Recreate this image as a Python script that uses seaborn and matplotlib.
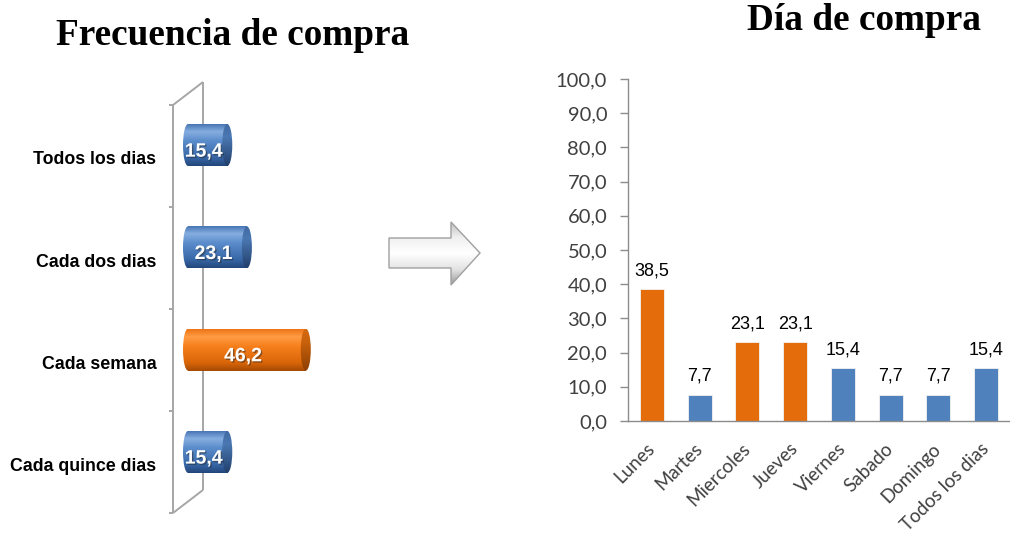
import numpy as np
import matplotlib
matplotlib.use("Agg")
import matplotlib.pyplot as plt
import matplotlib.colors as mcolors
from matplotlib.patches import Ellipse, Polygon
import matplotlib.patheffects as pe
import pandas as pd
import seaborn as sns

# ---- data ----
frecuencia_cats = ["Todos los dias", "Cada dos dias", "Cada semana", "Cada quince dias"]
frecuencia_vals = [15.4, 23.1, 46.2, 15.4]
frecuencia_destacada = [False, False, True, False]

dias = ["Lunes", "Martes", "Miercoles", "Jueves", "Viernes", "Sabado", "Domingo", "Todos los dias"]
dias_vals = [38.5, 7.7, 23.1, 23.1, 15.4, 7.7, 7.7, 15.4]
dias_destacados = [True, False, True, True, False, False, False, False]

y_ticks = [0, 10, 20, 30, 40, 50, 60, 70, 80, 90, 100]

titulo_izq = "Frecuencia de compra"
titulo_der = "Día de compra"

sns.set_style("white")
plt.rcParams["font.family"] = ["Lato", "DejaVu Sans"]

AZUL = "#4F81BD"
NARANJA = "#E46C0A"
GRIS_TXT = "#404040"
GRIS_EJE = "#8C8C8C"
NARROW = ["Liberation Sans Narrow", "Liberation Sans"]

fmt = lambda v: f"{v:.1f}".replace(".", ",")

W, H = 1010, 538
fig = plt.figure(figsize=(W / 100, H / 100), dpi=100)
fig.patch.set_facecolor("white")


def px_rect(l, t, r, b):
    return [l / W, 1 - b / H, (r - l) / W, (b - t) / H]


def gradient(stops, n=96):
    pos = [s[0] for s in stops]
    cols = np.array([mcolors.to_rgb(s[1]) for s in stops])
    t = np.linspace(0, 1, n)
    arr = np.stack([np.interp(t, pos, cols[:, k]) for k in range(3)], axis=-1)
    return arr[:, None, :]


def fill_gradient(ax, clip_patch, extent, stops, zorder):
    im = ax.imshow(gradient(stops), extent=extent, origin="upper", aspect="auto",
                   interpolation="bilinear", zorder=zorder)
    im.set_clip_path(clip_patch)
    return im


CIL_AZUL = [(0, "#4876B5"), (0.18, "#86AEE0"), (0.4, "#5B8CCB"), (0.8, "#3767A6"), (1, "#23467A")]
CIL_NARANJA = [(0, "#EE7414"), (0.18, "#FF9C45"), (0.4, "#F7801D"), (0.8, "#DA6609"), (1, "#A64A04")]
TAPA_AZUL = [(0, "#3F6AA4"), (0.3, "#4B78B2"), (1, "#213F6C")]
TAPA_NARANJA = [(0, "#D46A12"), (0.3, "#C9620C"), (1, "#8E3F03")]

# ---- left: horizontal cylinder bars ----
ax1 = fig.add_axes(px_rect(173, 82, 330, 513))
df1 = pd.DataFrame({"cat": frecuencia_cats, "val": frecuencia_vals})
pal1 = {c: (NARANJA if d else AZUL) for c, d in zip(frecuencia_cats, frecuencia_destacada)}
sns.barplot(data=df1, x="val", y="cat", hue="cat", palette=pal1, orient="h",
            width=0.41, saturation=1, legend=False, ax=ax1)

px_per_unit = 2.55
x_lo = -15 / px_per_unit
x_hi = x_lo + 157 / px_per_unit
y_top = -0.616
y_bot = 3.597
cap_w = 10 / px_per_unit

for patch, val, dest in zip(ax1.patches, frecuencia_vals, frecuencia_destacada):
    x0, y0 = patch.get_x(), patch.get_y()
    w, h = patch.get_width(), patch.get_height()
    yc = y0 + h / 2
    body = CIL_NARANJA if dest else CIL_AZUL
    tapa = TAPA_NARANJA if dest else TAPA_AZUL
    patch.set_facecolor("none")
    patch.set_edgecolor("none")
    fill_gradient(ax1, patch, (x0, x0 + w, y0 + h, y0), body, 3)
    left = Ellipse((x0, yc), cap_w, h, facecolor="none", edgecolor="none")
    ax1.add_patch(left)
    fill_gradient(ax1, left, (x0 - cap_w, x0 + cap_w, y0 + h, y0), body, 3)
    right = Ellipse((x0 + w, yc), cap_w, h, facecolor="none", edgecolor="none")
    ax1.add_patch(right)
    fill_gradient(ax1, right, (x0 + w - cap_w, x0 + w + cap_w, y0 + h, y0), tapa, 4)
    ax1.text(val / 2 - 1.5, yc + 0.07, fmt(val), ha="center", va="center", color="white",
             fontsize=14, fontweight="bold", family=NARROW, zorder=6,
             path_effects=[pe.withSimplePatchShadow(offset=(1, -1), alpha=0.45, shadow_rgbFace="#222222")])

# 3D wall frame
front_x, back_x = x_lo, -x_lo
depth = y_bot - 3.372
frame = dict(color="#A6A6A6", lw=1.4, zorder=1, solid_capstyle="butt", clip_on=False)
front_top = y_top + depth
ax1.plot([front_x, front_x], [front_top, y_bot], **frame)
ax1.plot([back_x, back_x], [y_top, y_bot - depth], **frame)
ax1.plot([front_x, back_x], [front_top, y_top], **frame)
ax1.plot([front_x, back_x], [y_bot, y_bot - depth], **frame)
tick_len = 4 / px_per_unit
for k in range(len(frecuencia_cats) + 1):
    yk = front_top + k * (y_bot - front_top) / len(frecuencia_cats)
    ax1.plot([front_x - tick_len, front_x], [yk, yk], **frame)

ax1.set_xlim(x_lo, x_hi)
ax1.set_ylim(y_bot, y_top)
ax1.set_yticks([i + 0.125 for i in range(len(frecuencia_cats))])
ax1.set_yticklabels(frecuencia_cats, fontsize=12.8, fontweight="bold", family=NARROW, color="black")
ax1.tick_params(axis="y", length=0, pad=12)
ax1.set_xticks([])
ax1.set_xlabel("")
ax1.set_ylabel("")
for s in ax1.spines.values():
    s.set_visible(False)
ax1.patch.set_alpha(0)

# ---- middle arrow ----
axa = fig.add_axes([0, 0, 1, 1], zorder=-1)
axa.set_xlim(0, W)
axa.set_ylim(H, 0)
axa.axis("off")
flecha = Polygon([(389, 238), (451, 238), (451, 222), (480, 253), (451, 285), (451, 268), (389, 268)],
                 closed=True, facecolor="none", edgecolor="#A0A0A0", lw=1.0, zorder=2)
axa.add_patch(flecha)
fill_gradient(axa, flecha, (388, 481, 286, 221),
              [(0, "#BEBEBE"), (0.25, "#F0F0F0"), (0.5, "#FFFFFF"), (0.75, "#E2E2E2"), (1, "#959595")], 1)

# ---- right: vertical bars ----
ax2 = fig.add_axes(px_rect(628, 79, 1010, 421))
df2 = pd.DataFrame({"dia": dias, "val": dias_vals})
pal2 = {d: (NARANJA if h else AZUL) for d, h in zip(dias, dias_destacados)}
sns.barplot(data=df2, x="dia", y="val", hue="dia", palette=pal2, width=0.5,
            saturation=1, legend=False, ax=ax2)
for patch in ax2.patches:
    patch.set_edgecolor("#F2F2F2")
    patch.set_linewidth(0.6)
for i, v in enumerate(dias_vals):
    ax2.annotate(fmt(v), (i, v), xytext=(0, 7), textcoords="offset points",
                 ha="center", va="bottom", fontsize=13, color="black", family="Liberation Sans")

ax2.set_xlim(-0.5, len(dias) - 0.5)
ax2.set_ylim(y_ticks[0], y_ticks[-1])
ax2.set_yticks(y_ticks)
ax2.set_yticklabels([fmt(t) for t in y_ticks], fontsize=14.5, color=GRIS_TXT)
ax2.set_xticks(range(len(dias)))
ax2.set_xticklabels(dias, rotation=45, ha="right", va="center", rotation_mode="anchor",
                    fontsize=13.5, color=GRIS_TXT)
ax2.set_xticks([i - 0.5 for i in range(len(dias) + 1)], minor=True)
ax2.tick_params(axis="x", which="major", length=0, pad=18)
ax2.tick_params(axis="x", which="minor", length=6, width=1, color=GRIS_EJE, direction="out")
ax2.tick_params(axis="y", length=6, width=1, color=GRIS_EJE, direction="out", pad=9, left=True)
ax2.set_xlabel("")
ax2.set_ylabel("")
for side in ["top", "right"]:
    ax2.spines[side].set_visible(False)
for side in ["left", "bottom"]:
    ax2.spines[side].set_color(GRIS_EJE)
    ax2.spines[side].set_linewidth(1)
ax2.grid(False)

# ---- titles ----
fig.text(233 / W, 1 - 45 / H, titulo_izq, ha="center", va="baseline",
         family="Liberation Serif", fontweight="bold", fontsize=26.8, color="black")
fig.text(864 / W, 1 - 30 / H, titulo_der, ha="center", va="baseline",
         family="Liberation Serif", fontweight="bold", fontsize=26.8, color="black")

fig.savefig("out.png", dpi=100, facecolor="white")
